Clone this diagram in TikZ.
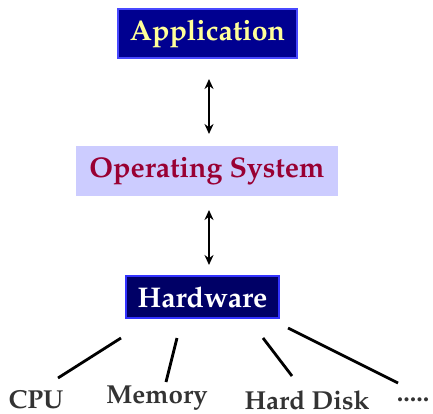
\documentclass[tikz,border=0pt]{standalone}
\usepackage[T1]{fontenc}
\usepackage{mathpazo}
\usetikzlibrary{arrows.meta}
\definecolor{appfill}{HTML}{000090}
\definecolor{appline}{HTML}{4848FF}
\definecolor{apptext}{HTML}{FFFF99}
\definecolor{osfill}{HTML}{CCCCFF}
\definecolor{ostext}{HTML}{990033}
\definecolor{hwfill}{HTML}{000066}
\definecolor{hwline}{HTML}{3333FF}
\definecolor{parttext}{HTML}{333333}
\tikzset{
  layer/.style={font=\bfseries\fontsize{28.5}{30}\selectfont, inner sep=0pt, anchor=center},
  part/.style={font=\bfseries\fontsize{26}{28}\selectfont, text=parttext, inner sep=0pt},
  link/.style={line width=2.6pt, {Stealth[length=10pt,width=9pt]}-{Stealth[length=10pt,width=9pt]}},
  branch/.style={line width=2.8pt}
}
\begin{document}
\begin{tikzpicture}[x=1pt,y=-1pt]
\useasboundingbox (0,0) rectangle (433,414);
% three layers
\filldraw[fill=appfill, draw=appline, line width=2pt] (118,9) rectangle (297,58);
\node[layer, text=apptext] (app) at (207.5,33.5) {Application};
\fill[osfill] (76,146) rectangle (338,196);
\node[layer, text=ostext] (os) at (207,171) {Operating System};
\filldraw[fill=hwfill, draw=hwline, line width=2pt] (126,276) rectangle (279,318);
\node[layer, text=white] (hw) at (202.5,297) {Hardware};
% links between layers
\coordinate (a1) at (209,79);
\coordinate (a2) at (209,134);
\coordinate (b1) at (209,210);
\coordinate (b2) at (209,265);
\draw[link] (a1) -- (a2);
\draw[link] (b1) -- (b2);
% hardware parts
\node[part] (cpu) at (36,400) {CPU};
\node[part] (mem) at (157,398.5) {Memory};
\node[part] (hdd) at (307,400) {Hard Disk};
\node[part] (more) at (413,400) {.....};
\coordinate (c1) at (121,338); \coordinate (c2) at (58,378);
\coordinate (m1) at (177,338); \coordinate (m2) at (166,382);
\coordinate (h1) at (263,338); \coordinate (h2) at (292,376);
\coordinate (d1) at (288,328); \coordinate (d2) at (398,383);
\draw[branch] (c1) -- (c2);
\draw[branch] (m1) -- (m2);
\draw[branch] (h1) -- (h2);
\draw[branch] (d1) -- (d2);
\end{tikzpicture}
\end{document}
